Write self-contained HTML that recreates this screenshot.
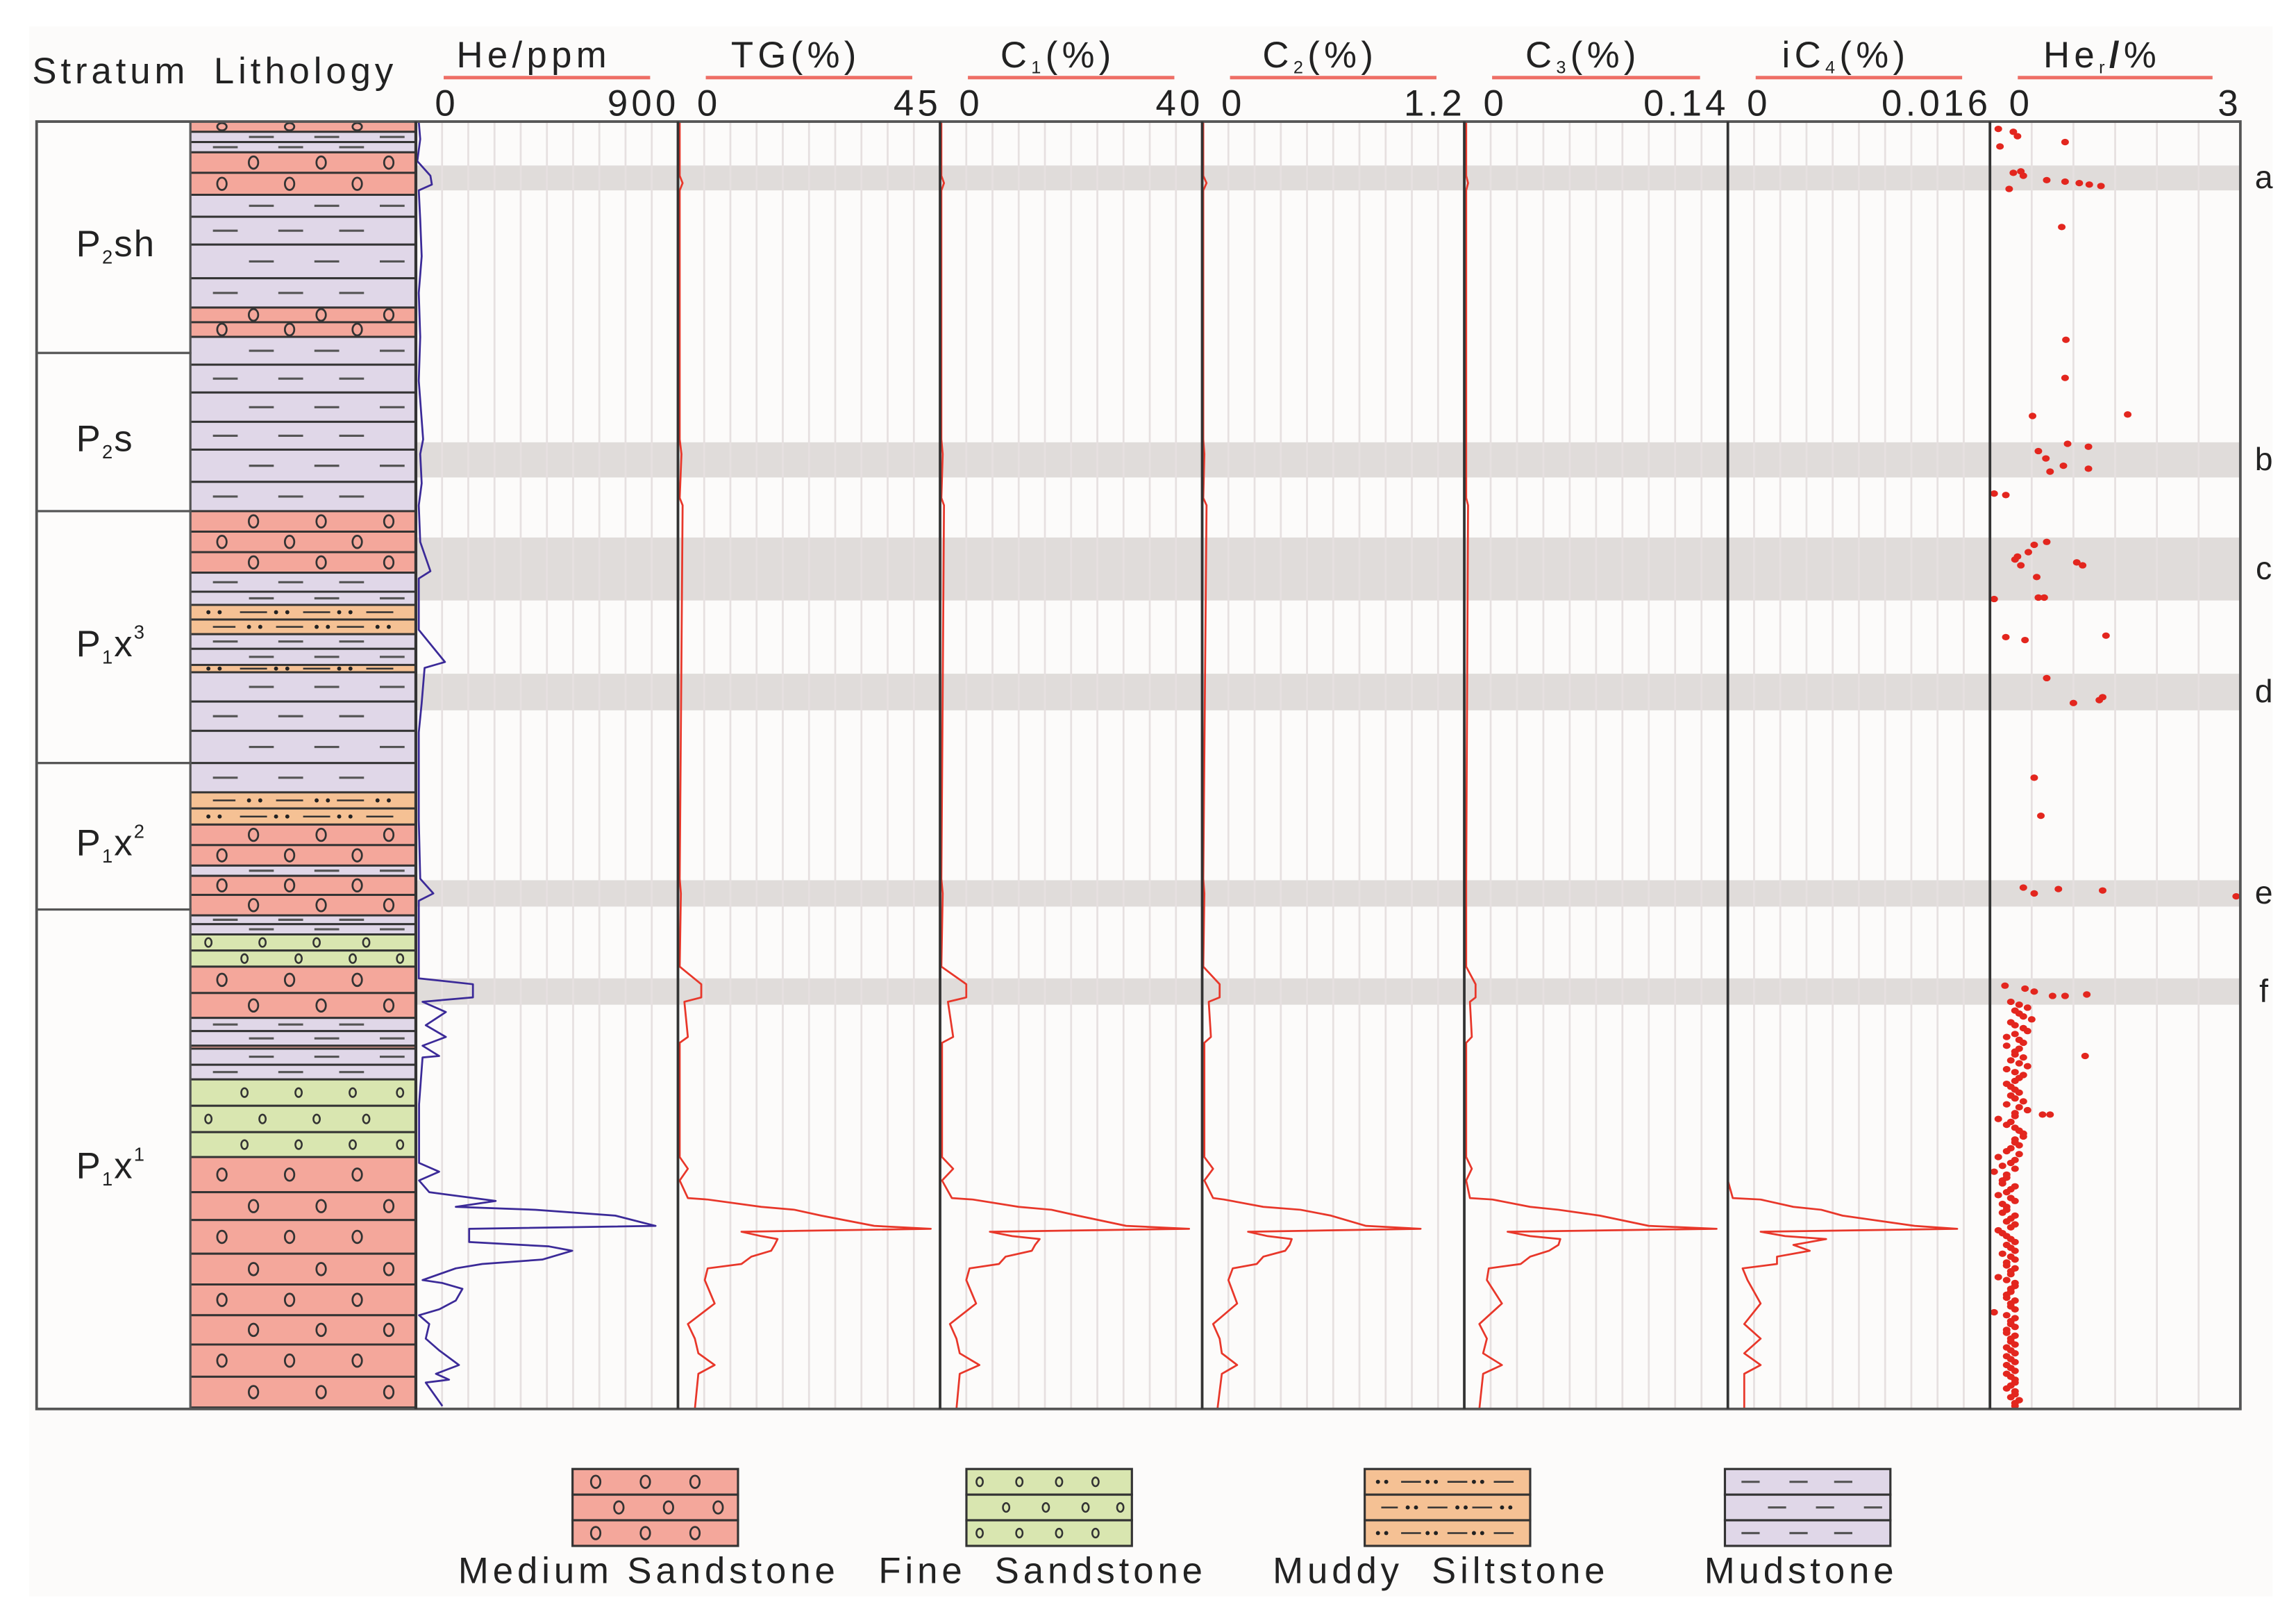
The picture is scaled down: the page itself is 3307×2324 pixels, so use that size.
<!DOCTYPE html>
<html><head><meta charset="utf-8">
<style>
html,body{margin:0;padding:0;background:#fff;}
svg{display:block;}
text{font-family:"Liberation Sans",Arial,sans-serif;fill:#222;}
</style></head>
<body>
<svg id="chart" xmlns="http://www.w3.org/2000/svg" width="3307" height="2324" viewBox="0 0 1568 1102" preserveAspectRatio="none">
<rect x="0" y="0" width="1568" height="1102" fill="#ffffff"/>
<rect x="20" y="18" width="1532" height="1072" fill="#fcfbfa"/>
<g id="bands"></g>
<g id="grid"></g>
<g id="lith"></g>
<g id="strat"></g>
<g id="curves"></g>
<g id="frame"></g>
<g id="headers"></g>
<g id="legend"></g>
</svg>
<script>
// ===== Data =====
const depthDomain = [83, 962];
const stratumTops = [83, 241, 349, 521, 621];
const stratumBases = [241, 349, 521, 621, 962];
const stratumNames = [["P","2","sh",""],["P","2","s",""],["P","1","x","3"],["P","1","x","2"],["P","1","x","1"]];
const layerTops = [83,90,97,104,118,133,148,167,190,210,220,230,249,268,288,307,329,349,363,377,391,404,413,423,433,443,454,459,479,499,521,541,552,563,577,591,598,611,625,631,638,649,660,678,695,704,714,716,727,737,755,773,790,814,833,856,877,898,918,940];
const layerBases = [90,97,104,118,133,148,167,190,210,220,230,249,268,288,307,329,349,363,377,391,404,413,423,433,443,454,459,479,499,521,541,552,563,577,591,598,611,625,631,638,649,660,678,695,704,714,716,727,737,755,773,790,814,833,856,877,898,918,940,961];
const layerTypes = ["med","mud","mud","med","med","mud","mud","mud","mud","med","med","mud","mud","mud","mud","mud","mud","med","med","med","mud","mud","silt","silt","mud","mud","silt","mud","mud","mud","mud","silt","silt","med","med","mud","med","med","mud","mud","fine","fine","med","med","mud","mud","med","mud","mud","fine","fine","fine","med","med","med","med","med","med","med","med"];
const bandTops = [113, 302, 367, 460, 601, 668];
const bandBases = [130, 326, 410, 485, 619, 686];
const bandLabels = ["a","b","c","d","e","f"];

const heDepth = [83,95,110,120,126,130,150,175,200,230,260,300,310,330,345,370,390,395,430,452,456,480,500,560,600,610,615,660,668,672,681,683,684,691,700,708,714,721,722,754,794,800,806,814,820,824,826,830,837,839,848,851,854,860,863,866,874,876,880,888,894,898,904,914,922,932,938,942,944,960];
const heValue = [10,15,5,50,55,10,15,20,10,15,10,25,15,20,10,15,50,10,10,100,30,20,10,10,15,60,10,10,10,196,196,80,23,103,34,103,23,80,23,11,11,80,11,46,274,137,411,685,823,183,183,457,537,434,228,137,23,91,160,137,80,11,46,34,80,148,69,114,34,91];

const gasDepth = [83,120,125,130,300,310,340,345,600,610,660,672,681,684,708,712,790,798,806,818,819,824,826,830,837,839,841,844,846,850,854,858,863,866,874,890,904,914,924,932,938,962];
const tgValue = [0.3,0.3,0.8,0.3,0.3,0.6,0.3,0.8,0.3,0.5,0.3,4.0,4.0,1.1,1.7,0.3,0.3,1.7,0.3,1.7,5.1,14.3,20,24.6,33.7,43.4,10.9,14.3,17.1,16.6,16.0,12.6,10.9,5.1,4.6,6.3,1.7,2.9,3.5,6.3,3.5,2.9];
const c1Value = [0.2,0.2,0.6,0.2,0.2,0.4,0.2,0.6,0.2,0.4,0.2,4.0,4.0,1.2,2.0,0.3,0.3,2.0,0.3,1.8,5,12,17,21,28.4,38,7.6,11,15.2,14.5,14,10,9,4.5,4,5.5,1.5,2.5,3,6,3,2.5];
const c2Value = [0.005,0.005,0.02,0.005,0.005,0.01,0.005,0.02,0.005,0.01,0.005,0.08,0.08,0.03,0.04,0.01,0.01,0.05,0.01,0.05,0.1,0.28,0.45,0.59,0.75,1.0,0.21,0.3,0.41,0.4,0.38,0.28,0.25,0.14,0.12,0.16,0.05,0.08,0.09,0.16,0.09,0.07];
const c3Value = [0.001,0.001,0.002,0.001,0.001,0.001,0.001,0.002,0.001,0.001,0.001,0.006,0.006,0.003,0.004,0.001,0.001,0.004,0.001,0.003,0.015,0.035,0.05,0.072,0.098,0.134,0.023,0.035,0.051,0.05,0.045,0.035,0.03,0.013,0.012,0.02,0.008,0.012,0.01,0.02,0.01,0.008];
const ic4Value = [0,0,0,0,0,0,0,0,0,0,0,0,0,0,0,0,0,0,0,0.0003,0.002,0.004,0.0057,0.007,0.0114,0.014,0.002,0.0035,0.006,0.004,0.005,0.003,0.003,0.0009,0.0012,0.002,0.001,0.002,0.001,0.002,0.001,0.001];

const herDepth = [88,90,93,97,100,118,117,120,123,124,125,126,127,129,155,232,258,283,284,303,305,308,313,318,320,322,337,338,372,370,377,380,382,386,384,386,394,408,409,408,435,437,434,463,476,478,480,531,557,606,610,607,608,612,673,675,677,680,680,679,721,761,761,
684,688,692,696,700,704,708,712,716,720,724,728,732,736,740,744,748,752,756,760,764,768,772,776,780,784,788,792,796,800,804,808,812,816,820,824,828,832,836,840,844,848,852,856,860,864,868,872,876,880,884,888,892,896,900,904,908,912,916,920,924,928,932,936,940,944,948,952,956,960,
686,690,694,698,702,706,710,714,718,722,726,730,734,738,742,746,750,754,758,762,766,770,774,778,782,786,790,794,798,802,806,810,814,818,822,826,830,834,838,842,846,850,854,858,862,866,870,874,878,882,886,890,894,898,902,906,910,914,918,922,926,930,934,938,942,946,950,954,958];
const herValue = [0.1,0.28,0.33,0.9,0.12,0.28,0.37,0.4,0.68,0.9,1.07,1.19,1.33,0.23,0.86,0.91,0.9,1.65,0.51,0.93,1.18,0.58,0.67,0.88,1.18,0.72,0.05,0.19,0.53,0.68,0.46,0.33,0.3,0.37,1.04,1.11,0.56,0.58,0.05,0.65,0.19,0.42,1.39,0.68,1.35,1.31,1.0,0.53,0.61,0.4,0.53,0.82,1.35,2.95,0.18,0.42,0.53,0.75,0.9,1.16,1.14,0.63,0.72,
0.25,0.45,0.35,0.5,0.3,0.45,0.2,0.4,0.35,0.3,0.25,0.45,0.3,0.35,0.2,0.3,0.25,0.4,0.35,0.3,0.1,0.2,0.35,0.4,0.3,0.25,0.35,0.3,0.15,0.05,0.2,0.15,0.25,0.1,0.3,0.2,0.15,0.25,0.3,0.1,0.2,0.3,0.25,0.15,0.3,0.2,0.25,0.1,0.3,0.25,0.2,0.3,0.25,0.05,0.3,0.25,0.2,0.3,0.25,0.2,0.3,0.25,0.2,0.3,0.25,0.3,0.2,0.3,0.35,0.3,
0.35,0.3,0.4,0.25,0.4,0.3,0.35,0.2,0.3,0.4,0.35,0.2,0.4,0.3,0.25,0.35,0.3,0.2,0.45,0.3,0.25,0.3,0.4,0.3,0.35,0.2,0.1,0.25,0.3,0.2,0.15,0.3,0.2,0.25,0.15,0.2,0.3,0.2,0.25,0.15,0.25,0.2,0.3,0.25,0.2,0.3,0.25,0.2,0.3,0.25,0.2,0.25,0.3,0.2,0.25,0.3,0.2,0.25,0.3,0.25,0.2,0.3,0.25,0.2,0.3,0.25,0.3,0.25,0.3];

const trackTitles = ["He/ppm","TG(%)","C1(%)","C2(%)","C3(%)","iC4(%)","Her/%"];
const trackMax = [900,45,40,1.2,0.14,0.016,3];
const trackMaxLabels = ["900","45","40","1.2","0.14","0.016","3"];
const legendNames = ["Medium Sandstone","Fine  Sandstone","Muddy  Siltstone","Mudstone"];
const legendTypes = ["med","fine","silt","mud"];

// ===== Layout =====
const NS = "http://www.w3.org/2000/svg";
const PLOT_TOP = 83, PLOT_BOT = 962;
const trackLeft = [284,463,642,821,1000,1180,1359];
const trackRight = [463,642,821,1000,1180,1359,1530];
const trackDivs = [10,10,10,10,10,10,6];
function yOf(d){ return PLOT_TOP + (d - depthDomain[0]) / (depthDomain[1]-depthDomain[0]) * (PLOT_BOT-PLOT_TOP); }
function xOf(t, v){ return trackLeft[t] + v / trackMax[t] * (trackRight[t]-trackLeft[t]); }
function mk(tag, attrs, parent){ const e=document.createElementNS(NS,tag); for(const k in attrs) e.setAttribute(k, attrs[k]); if(parent) parent.appendChild(e); return e; }
const fills = {med:"#f4a79b", mud:"#e0d7e8", fine:"#d9e6b0", silt:"#f5c194"};

const gB = document.getElementById("bands");
for (let i=0;i<bandTops.length;i++){
  const r = mk("rect",{x:284,y:yOf(bandTops[i]),width:1246,height:yOf(bandBases[i])-yOf(bandTops[i]),fill:"#e0dcda"},gB);
  
  
  const t = mk("text",{x:1546,y:(yOf(bandTops[i])+yOf(bandBases[i]))/2+7,"font-size":22,"text-anchor":"middle"},gB);
  t.textContent = bandLabels[i];
  
  
}
const gG = document.getElementById("grid");
for (let t=0;t<7;t++){
  for (let k=1;k<trackDivs[t];k++){
    const x = trackLeft[t] + k*(trackRight[t]-trackLeft[t])/trackDivs[t];
    const l = mk("line",{x1:x,x2:x,y1:PLOT_TOP,y2:PLOT_BOT,stroke:"#e6e0e0","stroke-width":1.3},gG);
    
    
  }
}
function drawPattern(g, type, x0, w, y0, y1, alt){
  const cy = (y0+y1)/2, h = y1-y0;
  if (type==="med"){
    const xs = alt ? [0.28,0.58,0.88] : [0.14,0.44,0.74];
    xs.forEach(f=>mk("ellipse",{cx:x0+f*w,cy:cy,rx:3.2,ry:Math.min(4.2,h/2-1),fill:"none",stroke:"#333","stroke-width":1.3},g));
  } else if (type==="fine"){
    const xs = alt ? [0.24,0.48,0.72,0.93] : [0.08,0.32,0.56,0.78];
    xs.forEach(f=>mk("ellipse",{cx:x0+f*w,cy:cy,rx:2.2,ry:Math.min(3,h/2-1),fill:"none",stroke:"#333","stroke-width":1.2},g));
  } else if (type==="mud"){
    const xs = alt ? [0.26,0.55,0.84] : [0.10,0.39,0.66];
    xs.forEach(f=>mk("line",{x1:x0+f*w,x2:x0+f*w+w*0.11,y1:cy,y2:cy,stroke:"#555","stroke-width":1.5},g));
  } else if (type==="silt"){
    const segs = alt ? [[0.1,0.2],[0.38,0.5],[0.65,0.77]] : [[0.22,0.34],[0.5,0.62],[0.78,0.9]];
    segs.forEach(sg=>mk("line",{x1:x0+sg[0]*w,x2:x0+sg[1]*w,y1:cy,y2:cy,stroke:"#333","stroke-width":1.2},g));
    const dots = alt ? [0.26,0.31,0.56,0.61,0.83,0.88] : [0.08,0.13,0.38,0.43,0.66,0.71];
    dots.forEach(f=>mk("circle",{cx:x0+f*w,cy:cy,r:1.4,fill:"#222"},g));
  }
}
const gL = document.getElementById("lith");
for (let i=0;i<layerTops.length;i++){
  const g = mk("g",{},gL);
  
  
  const y0=yOf(layerTops[i]), y1=yOf(layerBases[i]);
  mk("rect",{x:130,y:y0,width:154,height:y1-y0,fill:fills[layerTypes[i]],stroke:"#333","stroke-width":1.4},g);
  drawPattern(g, layerTypes[i], 130, 154, y0, y1, i%2===1);
}
const gS = document.getElementById("strat");
for (let i=0;i<stratumTops.length;i++){
  const y0=yOf(stratumTops[i]), y1=yOf(stratumBases[i]);
  const r = mk("rect",{x:25,y:y0,width:105,height:y1-y0,fill:"#fdfcfb",stroke:"#555","stroke-width":1.5},gS);
  
  
  const n = stratumNames[i];
  const t = mk("text",{x:52,y:(y0+y1)/2+13,"font-size":25,"letter-spacing":1},gS);
  
  
  const a = mk("tspan",{},t); a.textContent=n[0];
  const b = mk("tspan",{"font-size":13,dy:5}, t); b.textContent=n[1];
  const c = mk("tspan",{dy:-5},t); c.textContent=n[2];
  if (n[3]){ const d = mk("tspan",{"font-size":13,dy:-12},t); d.textContent=n[3]; }
}
const gC = document.getElementById("curves");
function line(t, depths, vals, color, name){
  let d="";
  for (let i=0;i<depths.length;i++){ d += (i?"L":"M") + xOf(t, vals[i]).toFixed(2) + " " + yOf(depths[i]).toFixed(2); }
  const p = mk("path",{d:d,fill:"none",stroke:color,"stroke-width":1.3,"stroke-linejoin":"round"},gC);
  
  
}
line(0, heDepth, heValue, "#3b2a98", "he-curve");
line(1, gasDepth, tgValue, "#e8372a", "tg-curve");
line(2, gasDepth, c1Value, "#e8372a", "c1-curve");
line(3, gasDepth, c2Value, "#e8372a", "c2-curve");
line(4, gasDepth, c3Value, "#e8372a", "c3-curve");
line(5, gasDepth, ic4Value, "#e8372a", "ic4-curve");
for (let i=0;i<herDepth.length;i++){
  const c = mk("ellipse",{cx:xOf(6, herValue[i]),cy:yOf(herDepth[i]),rx:2.6,ry:2.2,fill:"#e3261e"},gC);
  
  
}
const gF = document.getElementById("frame");
const fr = mk("rect",{x:25,y:PLOT_TOP,width:1505,height:PLOT_BOT-PLOT_TOP,fill:"none",stroke:"#555","stroke-width":1.8},gF);


for (let t=0;t<7;t++){
  const l = mk("line",{x1:trackLeft[t],x2:trackLeft[t],y1:PLOT_TOP,y2:PLOT_BOT,stroke:"#333","stroke-width":t===0?2:1.8},gF);
  
  
}
const gH = document.getElementById("headers");
const st = mk("text",{x:22,y:57,"font-size":25,"letter-spacing":2.8},gH); st.textContent="Stratum";


const lt = mk("text",{x:146,y:57,"font-size":25,"letter-spacing":2.8},gH); lt.textContent="Lithology";


for (let t=0;t<7;t++){
  const L=trackLeft[t], R=trackRight[t], cx=(L+R)/2 - 9;
  const ul = mk("line",{x1:L+19,x2:R-19,y1:53,y2:53,stroke:"#ee6f66","stroke-width":2.4},gH);
  
  
  const tt = mk("text",{x:cx,y:46,"font-size":25,"text-anchor":"middle","letter-spacing":3},gH);
  
  
  const title = trackTitles[t];
  if (t>=2 && t<=5){
    const pre = title.slice(0, title.indexOf("(")-1), sub = title.charAt(title.indexOf("(")-1);
    const a=mk("tspan",{},tt); a.textContent=pre;
    const b=mk("tspan",{"font-size":12,dy:4},tt); b.textContent=sub;
    const c=mk("tspan",{dy:-4},tt); c.textContent=title.slice(title.indexOf("("));
  } else if (t===6){
    const a=mk("tspan",{},tt); a.textContent="He";
    const b=mk("tspan",{"font-size":12,dy:4},tt); b.textContent="r";
    const c=mk("tspan",{dy:-4,"font-weight":"bold"},tt); c.textContent="/";
    const d=mk("tspan",{},tt); d.textContent="%";
  } else { tt.textContent = title; }
  const z = mk("text",{x:L+13,y:79,"font-size":25,"text-anchor":"start"},gH); z.textContent="0";
  
  
  const m = mk("text",{x:R+1,y:79,"font-size":25,"text-anchor":"end","letter-spacing":2.5},gH); m.textContent=trackMaxLabels[t];
  
  
}
const gLe = document.getElementById("legend");
const legX = [391,660,932,1178];
for (let i=0;i<4;i++){
  const g = mk("g",{},gLe);
  
  
  for (let r=0;r<3;r++){
    const y0 = 1003 + r*17.5, y1 = y0+17.5;
    mk("rect",{x:legX[i],y:y0,width:113,height:17.5,fill:fills[legendTypes[i]],stroke:"#333","stroke-width":1.5},g);
    drawPattern(g, legendTypes[i], legX[i], 113, y0, y1, r===1);
  }
  const t = mk("text",{x:legX[i]+52,y:1081,"font-size":25,"text-anchor":"middle","letter-spacing":2.8},g);
  t.textContent = legendNames[i];
  t.style.whiteSpace = "pre";
}
</script>
</body></html>
